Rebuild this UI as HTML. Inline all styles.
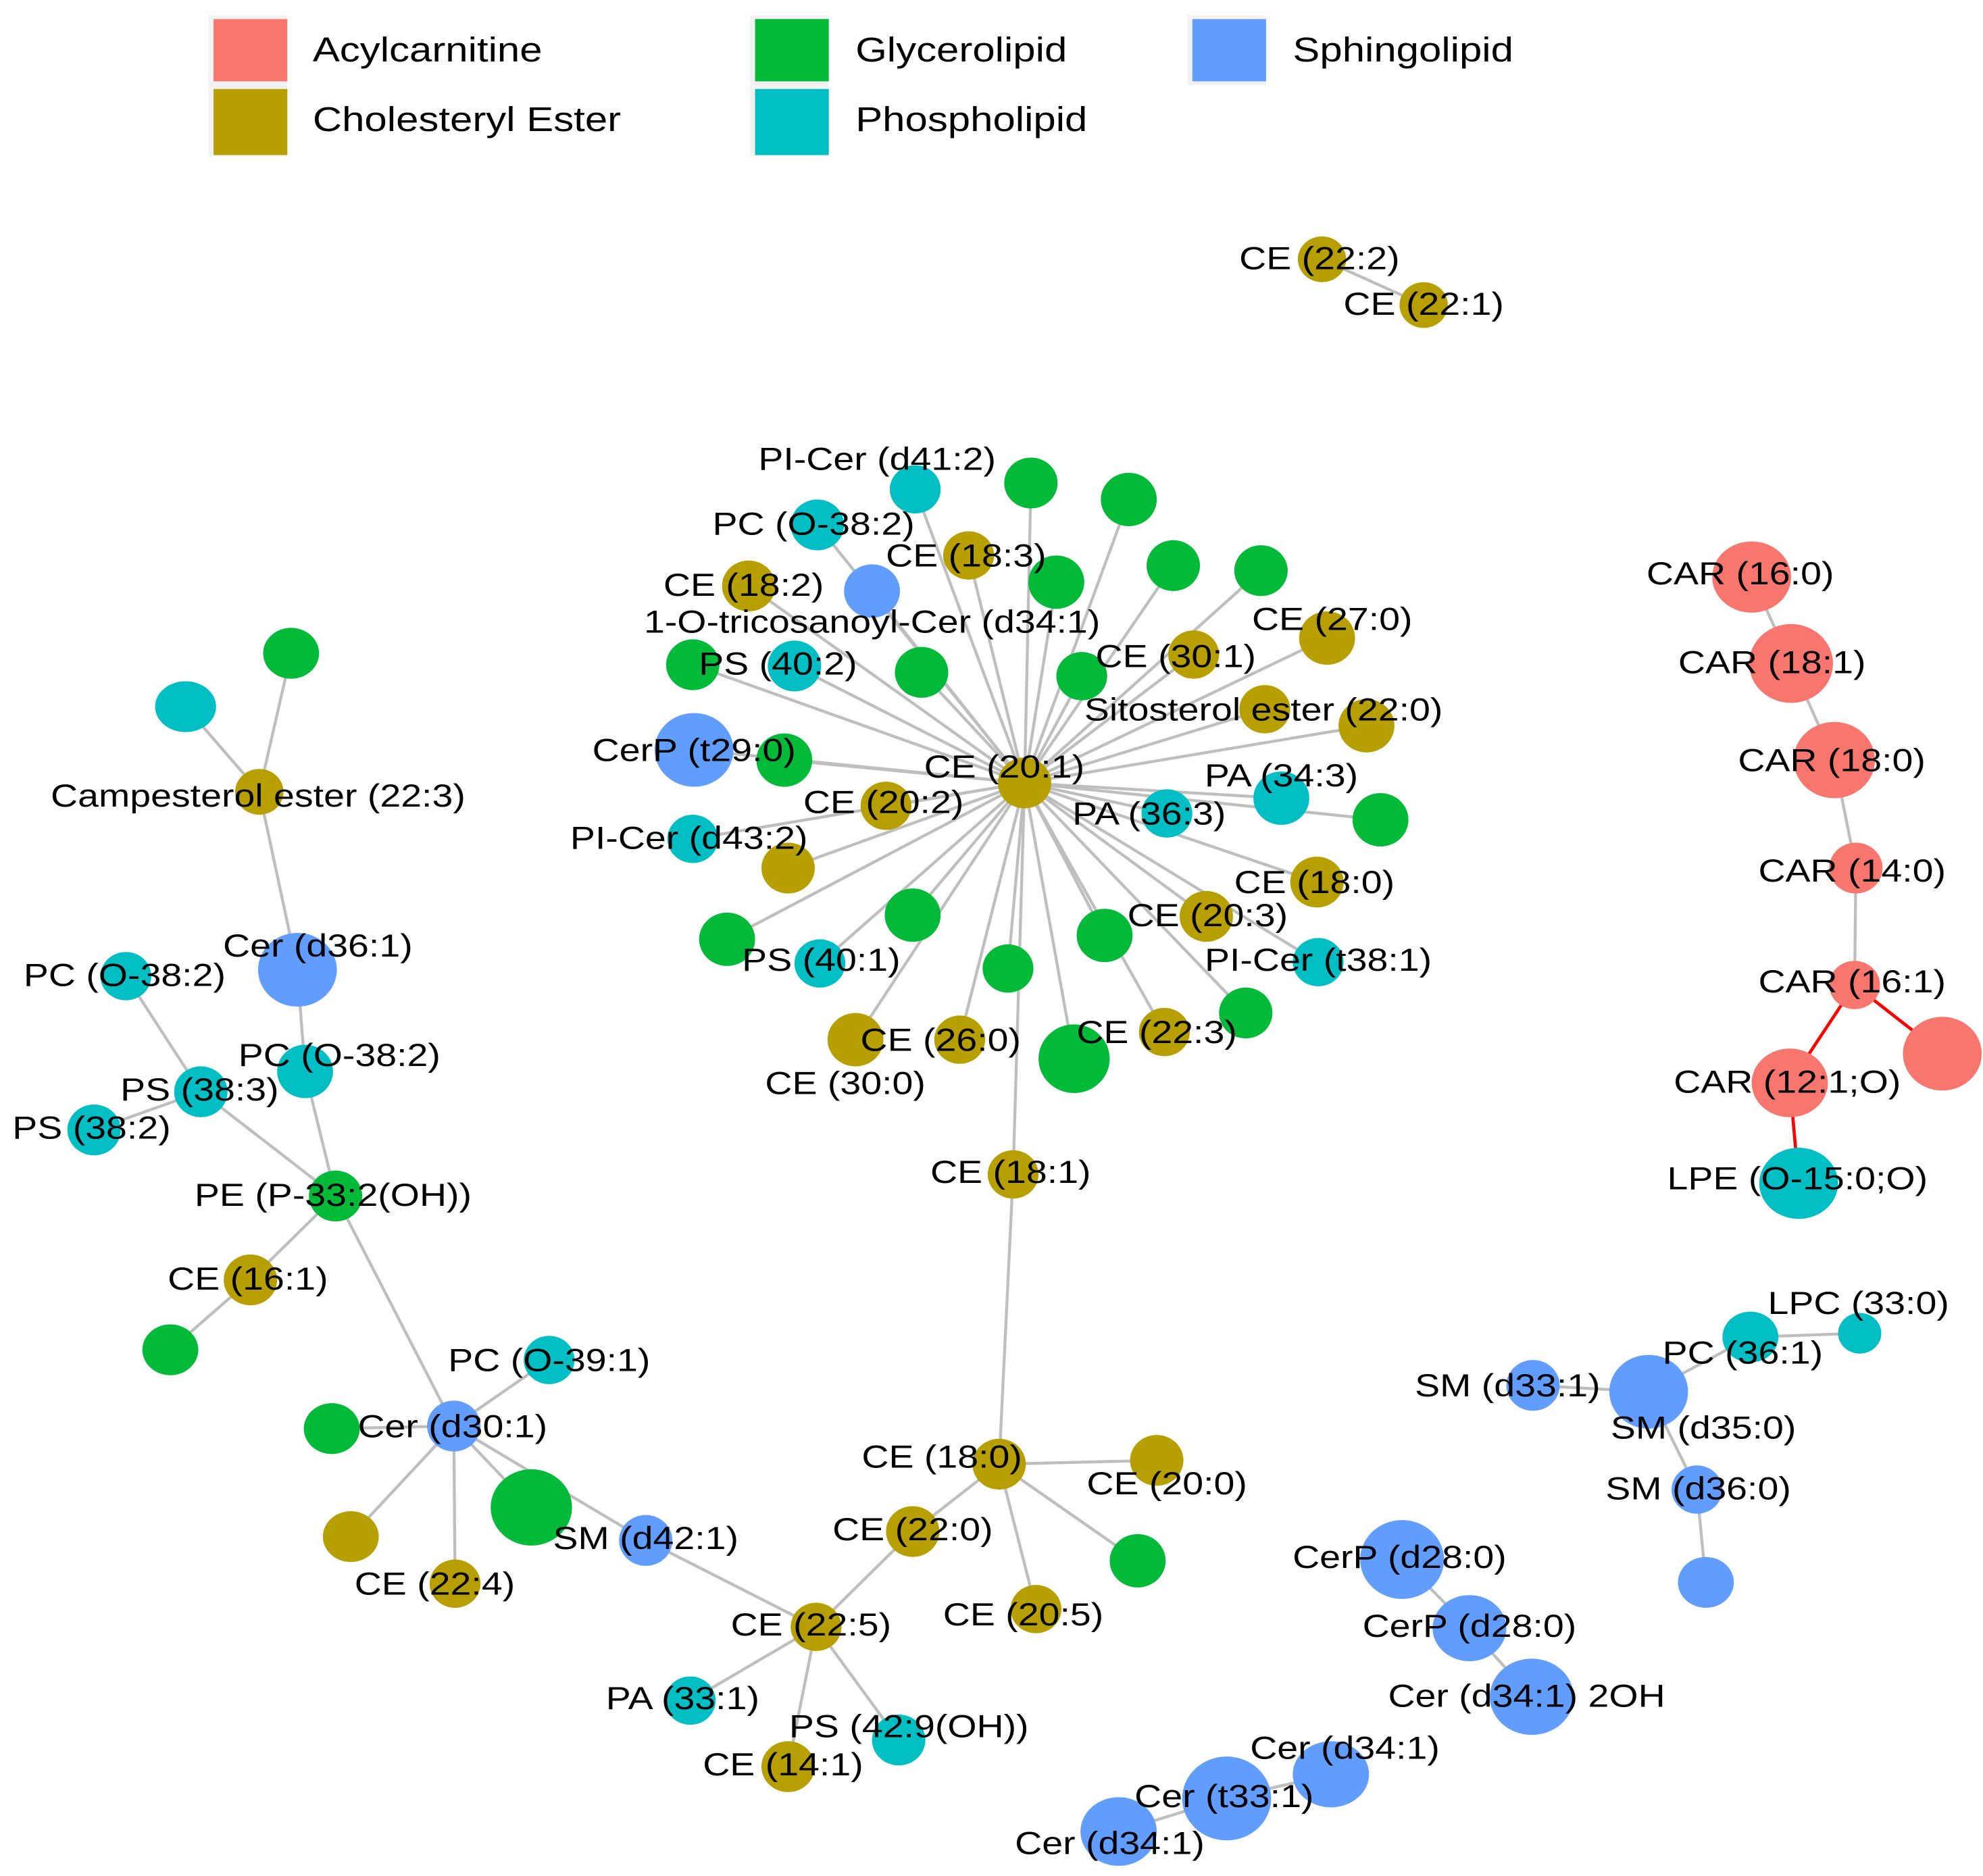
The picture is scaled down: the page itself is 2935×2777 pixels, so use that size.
<!DOCTYPE html>
<html><head><meta charset="utf-8"><style>
html,body{margin:0;padding:0;background:#fff}
svg{display:block}
text{font-family:"Liberation Sans",Arial,sans-serif;fill:#000}
.l{font-size:25px;text-anchor:middle;dominant-baseline:central}
.g{font-size:27px;dominant-baseline:central}
</style></head><body>
<svg width="2935" height="2777" viewBox="0 0 1560 1476" xmlns="http://www.w3.org/2000/svg">
<rect width="1560" height="1476" fill="#fff"/>
<!-- legend -->
<rect x="164" y="12" width="62" height="111" fill="#F2F2F2"/>
<rect x="590" y="12" width="62" height="111" fill="#F2F2F2"/>
<rect x="934" y="12" width="62" height="55" fill="#F2F2F2"/>
<rect x="168" y="15" width="58" height="49" fill="#F8766D"/>
<rect x="168" y="70" width="58" height="52" fill="#B79F00"/>
<rect x="594" y="15" width="58" height="49" fill="#00BA38"/>
<rect x="594" y="70" width="58" height="52" fill="#00BFC4"/>
<rect x="938" y="15" width="58" height="49" fill="#619CFF"/>
<text class="g" transform="translate(246,39) scale(1.18,1)">Acylcarnitine</text>
<text class="g" transform="translate(246,94) scale(1.18,1)">Cholesteryl Ester</text>
<text class="g" transform="translate(673,39) scale(1.18,1)">Glycerolipid</text>
<text class="g" transform="translate(673,94) scale(1.18,1)">Phospholipid</text>
<text class="g" transform="translate(1017,39) scale(1.18,1)">Sphingolipid</text>

<g stroke="#BEBEBE" stroke-width="2.3" fill="none">
<line x1="1040" y1="204" x2="1120" y2="240"/>
<!-- hub edges -->
<g>
<line x1="806" y1="616" x2="720" y2="385"/>
<line x1="806" y1="616" x2="811" y2="380"/>
<line x1="806" y1="616" x2="888" y2="393"/>
<line x1="806" y1="616" x2="643" y2="413"/>
<line x1="806" y1="616" x2="762" y2="437"/>
<line x1="806" y1="616" x2="686" y2="465"/>
<line x1="806" y1="616" x2="589" y2="461"/>
<line x1="806" y1="616" x2="831" y2="458"/>
<line x1="806" y1="616" x2="923" y2="445"/>
<line x1="806" y1="616" x2="992" y2="449"/>
<line x1="806" y1="616" x2="1044" y2="502"/>
<line x1="806" y1="616" x2="939" y2="515"/>
<line x1="806" y1="616" x2="545" y2="523"/>
<line x1="806" y1="616" x2="625" y2="524"/>
<line x1="806" y1="616" x2="725" y2="529"/>
<line x1="806" y1="616" x2="851" y2="532"/>
<line x1="806" y1="616" x2="995" y2="558"/>
<line x1="806" y1="616" x2="1075" y2="571"/>
<line x1="806" y1="616" x2="546" y2="590"/>
<line x1="806" y1="616" x2="617" y2="598"/>
<line x1="806" y1="616" x2="1008" y2="628"/>
<line x1="806" y1="616" x2="1086" y2="645"/>
<line x1="806" y1="616" x2="918" y2="640"/>
<line x1="806" y1="616" x2="697" y2="634"/>
<line x1="806" y1="616" x2="545" y2="660"/>
<line x1="806" y1="616" x2="620" y2="683"/>
<line x1="806" y1="616" x2="1036" y2="694"/>
<line x1="806" y1="616" x2="949" y2="721"/>
<line x1="806" y1="616" x2="718" y2="720"/>
<line x1="806" y1="616" x2="572" y2="739"/>
<line x1="806" y1="616" x2="869" y2="736"/>
<line x1="806" y1="616" x2="645" y2="758"/>
<line x1="806" y1="616" x2="1037" y2="757"/>
<line x1="806" y1="616" x2="793" y2="762"/>
<line x1="806" y1="616" x2="980" y2="797"/>
<line x1="806" y1="616" x2="673" y2="818"/>
<line x1="806" y1="616" x2="755" y2="818"/>
<line x1="806" y1="616" x2="916" y2="812"/>
<line x1="806" y1="616" x2="845" y2="833"/>
<line x1="806" y1="616" x2="797" y2="924"/>
</g>
<line x1="797" y1="924" x2="786" y2="1152"/>
<line x1="786" y1="1152" x2="910" y2="1149"/>
<line x1="786" y1="1152" x2="895" y2="1228"/>
<line x1="786" y1="1152" x2="815" y2="1266"/>
<line x1="786" y1="1152" x2="718" y2="1205"/>
<line x1="718" y1="1205" x2="642" y2="1280"/>
<line x1="642" y1="1280" x2="543" y2="1338"/>
<line x1="642" y1="1280" x2="707" y2="1369"/>
<line x1="642" y1="1280" x2="620" y2="1390"/>
<line x1="642" y1="1280" x2="508" y2="1212"/>
<line x1="508" y1="1212" x2="357" y2="1122"/>
<line x1="357" y1="1122" x2="432" y2="1070"/>
<line x1="357" y1="1122" x2="261" y2="1124"/>
<line x1="357" y1="1122" x2="418" y2="1186"/>
<line x1="357" y1="1122" x2="276" y2="1209"/>
<line x1="357" y1="1122" x2="358" y2="1246"/>
<line x1="357" y1="1122" x2="264" y2="941"/>
<line x1="264" y1="941" x2="197" y2="1007"/>
<line x1="197" y1="1007" x2="134" y2="1062"/>
<line x1="264" y1="941" x2="240" y2="843"/>
<line x1="264" y1="941" x2="158" y2="859"/>
<line x1="158" y1="859" x2="74" y2="889"/>
<line x1="158" y1="859" x2="99" y2="768"/>
<line x1="240" y1="843" x2="234" y2="763"/>
<line x1="234" y1="763" x2="204" y2="623"/>
<line x1="204" y1="623" x2="146" y2="556"/>
<line x1="204" y1="623" x2="229" y2="514"/>
<line x1="1378" y1="454" x2="1409" y2="522"/>
<line x1="1409" y1="522" x2="1443" y2="598"/>
<line x1="1443" y1="598" x2="1460" y2="683"/>
<line x1="1460" y1="683" x2="1459" y2="775"/>
<line x1="1463" y1="1049" x2="1377" y2="1052"/>
<line x1="1377" y1="1052" x2="1297" y2="1095"/>
<line x1="1206" y1="1090" x2="1297" y2="1095"/>
<line x1="1297" y1="1095" x2="1335" y2="1172"/>
<line x1="1335" y1="1172" x2="1342" y2="1245"/>
<line x1="1103" y1="1227" x2="1156" y2="1281"/>
<line x1="1156" y1="1281" x2="1205" y2="1335"/>
<line x1="1047" y1="1396" x2="965" y2="1415"/>
<line x1="965" y1="1415" x2="880" y2="1441"/>
</g>
<g stroke="#FF0000" stroke-width="2.5">
<line x1="1459" y1="775" x2="1528" y2="829"/>
<line x1="1459" y1="775" x2="1408" y2="852"/>
<line x1="1408" y1="852" x2="1415" y2="931"/>
</g>

<!-- nodes -->
<g>
<ellipse cx="1040" cy="204" rx="19" ry="18" fill="#B79F00"/>
<ellipse cx="1120" cy="240" rx="19" ry="18" fill="#B79F00"/>
<ellipse cx="720" cy="385" rx="20" ry="19" fill="#00BFC4"/>
<ellipse cx="811" cy="380" rx="21" ry="20" fill="#00BA38"/>
<ellipse cx="888" cy="393" rx="22" ry="21" fill="#00BA38"/>
<ellipse cx="643" cy="413" rx="21" ry="20" fill="#00BFC4"/>
<ellipse cx="762" cy="437" rx="20" ry="19" fill="#B79F00"/>
<ellipse cx="686" cy="465" rx="22" ry="21" fill="#619CFF"/>
<ellipse cx="589" cy="461" rx="21" ry="20" fill="#B79F00"/>
<ellipse cx="831" cy="458" rx="22" ry="21" fill="#00BA38"/>
<ellipse cx="923" cy="445" rx="21" ry="20" fill="#00BA38"/>
<ellipse cx="992" cy="449" rx="21" ry="20" fill="#00BA38"/>
<ellipse cx="1044" cy="502" rx="22" ry="21" fill="#B79F00"/>
<ellipse cx="939" cy="515" rx="20" ry="19" fill="#B79F00"/>
<ellipse cx="545" cy="523" rx="21" ry="20" fill="#00BA38"/>
<ellipse cx="625" cy="524" rx="21" ry="20" fill="#00BFC4"/>
<ellipse cx="725" cy="529" rx="21" ry="20" fill="#00BA38"/>
<ellipse cx="851" cy="532" rx="20" ry="19" fill="#00BA38"/>
<ellipse cx="995" cy="558" rx="20" ry="19" fill="#B79F00"/>
<ellipse cx="1075" cy="571" rx="22" ry="21" fill="#B79F00"/>
<ellipse cx="546" cy="590" rx="31" ry="29" fill="#619CFF"/>
<ellipse cx="617" cy="598" rx="22" ry="21" fill="#00BA38"/>
<ellipse cx="806" cy="616" rx="21" ry="20" fill="#B79F00"/>
<ellipse cx="1008" cy="628" rx="22" ry="21" fill="#00BFC4"/>
<ellipse cx="1086" cy="645" rx="22" ry="21" fill="#00BA38"/>
<ellipse cx="918" cy="640" rx="20" ry="19" fill="#00BFC4"/>
<ellipse cx="697" cy="634" rx="20" ry="19" fill="#B79F00"/>
<ellipse cx="545" cy="660" rx="20" ry="19" fill="#00BFC4"/>
<ellipse cx="620" cy="683" rx="21" ry="20" fill="#B79F00"/>
<ellipse cx="1036" cy="694" rx="21" ry="20" fill="#B79F00"/>
<ellipse cx="949" cy="721" rx="21" ry="20" fill="#B79F00"/>
<ellipse cx="718" cy="720" rx="22" ry="21" fill="#00BA38"/>
<ellipse cx="572" cy="739" rx="22" ry="21" fill="#00BA38"/>
<ellipse cx="869" cy="736" rx="22" ry="21" fill="#00BA38"/>
<ellipse cx="645" cy="758" rx="20" ry="19" fill="#00BFC4"/>
<ellipse cx="1037" cy="757" rx="20" ry="19" fill="#00BFC4"/>
<ellipse cx="793" cy="762" rx="20" ry="19" fill="#00BA38"/>
<ellipse cx="980" cy="797" rx="21" ry="20" fill="#00BA38"/>
<ellipse cx="673" cy="818" rx="22" ry="21" fill="#B79F00"/>
<ellipse cx="755" cy="818" rx="20" ry="19" fill="#B79F00"/>
<ellipse cx="916" cy="812" rx="20" ry="19" fill="#B79F00"/>
<ellipse cx="845" cy="833" rx="28" ry="27" fill="#00BA38"/>
<ellipse cx="797" cy="924" rx="20" ry="19" fill="#B79F00"/>
<ellipse cx="786" cy="1152" rx="21" ry="20" fill="#B79F00"/>
<ellipse cx="910" cy="1149" rx="21" ry="20" fill="#B79F00"/>
<ellipse cx="895" cy="1228" rx="22" ry="21" fill="#00BA38"/>
<ellipse cx="815" cy="1266" rx="20" ry="19" fill="#B79F00"/>
<ellipse cx="718" cy="1205" rx="21" ry="20" fill="#B79F00"/>
<ellipse cx="642" cy="1280" rx="20" ry="19" fill="#B79F00"/>
<ellipse cx="543" cy="1338" rx="20" ry="19" fill="#00BFC4"/>
<ellipse cx="707" cy="1369" rx="21" ry="20" fill="#00BFC4"/>
<ellipse cx="620" cy="1390" rx="21" ry="20" fill="#B79F00"/>
<ellipse cx="508" cy="1212" rx="21" ry="20" fill="#619CFF"/>
<ellipse cx="357" cy="1122" rx="21" ry="20" fill="#619CFF"/>
<ellipse cx="432" cy="1070" rx="20" ry="19" fill="#00BFC4"/>
<ellipse cx="261" cy="1124" rx="22" ry="20" fill="#00BA38"/>
<ellipse cx="418" cy="1186" rx="32" ry="30" fill="#00BA38"/>
<ellipse cx="276" cy="1209" rx="22" ry="20" fill="#B79F00"/>
<ellipse cx="358" cy="1246" rx="20" ry="19" fill="#B79F00"/>
<ellipse cx="264" cy="941" rx="21" ry="20" fill="#00BA38"/>
<ellipse cx="197" cy="1007" rx="21" ry="20" fill="#B79F00"/>
<ellipse cx="134" cy="1062" rx="22" ry="20" fill="#00BA38"/>
<ellipse cx="240" cy="843" rx="22" ry="21" fill="#00BFC4"/>
<ellipse cx="158" cy="859" rx="21" ry="20" fill="#00BFC4"/>
<ellipse cx="74" cy="889" rx="21" ry="20" fill="#00BFC4"/>
<ellipse cx="99" cy="768" rx="20" ry="19" fill="#00BFC4"/>
<ellipse cx="234" cy="763" rx="31" ry="29" fill="#619CFF"/>
<ellipse cx="204" cy="623" rx="19" ry="18" fill="#B79F00"/>
<ellipse cx="146" cy="556" rx="24" ry="20" fill="#00BFC4"/>
<ellipse cx="229" cy="514" rx="22" ry="20" fill="#00BA38"/>
<ellipse cx="1378" cy="454" rx="31" ry="28" fill="#F8766D"/>
<ellipse cx="1409" cy="522" rx="33" ry="31" fill="#F8766D"/>
<ellipse cx="1443" cy="598" rx="32" ry="30" fill="#F8766D"/>
<ellipse cx="1460" cy="683" rx="21" ry="20" fill="#F8766D"/>
<ellipse cx="1459" cy="775" rx="20" ry="19" fill="#F8766D"/>
<ellipse cx="1528" cy="829" rx="31" ry="29" fill="#F8766D"/>
<ellipse cx="1408" cy="852" rx="30" ry="27" fill="#F8766D"/>
<ellipse cx="1415" cy="931" rx="31" ry="28" fill="#00BFC4"/>
<ellipse cx="1463" cy="1049" rx="17" ry="16" fill="#00BFC4"/>
<ellipse cx="1377" cy="1052" rx="22" ry="20" fill="#00BFC4"/>
<ellipse cx="1297" cy="1095" rx="31" ry="29" fill="#619CFF"/>
<ellipse cx="1206" cy="1090" rx="21" ry="20" fill="#619CFF"/>
<ellipse cx="1335" cy="1172" rx="20" ry="19" fill="#619CFF"/>
<ellipse cx="1342" cy="1245" rx="22" ry="20" fill="#619CFF"/>
<ellipse cx="1103" cy="1227" rx="33" ry="31" fill="#619CFF"/>
<ellipse cx="1156" cy="1281" rx="29" ry="26" fill="#619CFF"/>
<ellipse cx="1205" cy="1335" rx="33" ry="30" fill="#619CFF"/>
<ellipse cx="1047" cy="1396" rx="30" ry="26" fill="#619CFF"/>
<ellipse cx="965" cy="1415" rx="35" ry="33" fill="#619CFF"/>
<ellipse cx="880" cy="1441" rx="30" ry="27" fill="#619CFF"/>
</g>

<!-- labels -->
<g>
<text class="l" transform="translate(1038,203) scale(1.18,1)">CE (22:2)</text>
<text class="l" transform="translate(1120,239) scale(1.18,1)">CE (22:1)</text>
<text class="l" transform="translate(690,361) scale(1.18,1)">PI-Cer (d41:2)</text>
<text class="l" transform="translate(640,412) scale(1.18,1)">PC (O-38:2)</text>
<text class="l" transform="translate(760,437) scale(1.18,1)">CE (18:3)</text>
<text class="l" transform="translate(585,460) scale(1.18,1)">CE (18:2)</text>
<text class="l" transform="translate(686,489) scale(1.18,1)">1-O-tricosanoyl-Cer (d34:1)</text>
<text class="l" transform="translate(1048,487) scale(1.18,1)">CE (27:0)</text>
<text class="l" transform="translate(925,516) scale(1.18,1)">CE (30:1)</text>
<text class="l" transform="translate(612,522) scale(1.18,1)">PS (40:2)</text>
<text class="l" transform="translate(994,558) scale(1.18,1)">Sitosterol ester (22:0)</text>
<text class="l" transform="translate(546,590) scale(1.18,1)">CerP (t29:0)</text>
<text class="l" transform="translate(790,603) scale(1.18,1)">CE (20:1)</text>
<text class="l" transform="translate(1008,610) scale(1.18,1)">PA (34:3)</text>
<text class="l" transform="translate(904,640) scale(1.18,1)">PA (36:3)</text>
<text class="l" transform="translate(695,631) scale(1.18,1)">CE (20:2)</text>
<text class="l" transform="translate(542,659) scale(1.18,1)">PI-Cer (d43:2)</text>
<text class="l" transform="translate(1034,694) scale(1.18,1)">CE (18:0)</text>
<text class="l" transform="translate(950,720) scale(1.18,1)">CE (20:3)</text>
<text class="l" transform="translate(646,755) scale(1.18,1)">PS (40:1)</text>
<text class="l" transform="translate(1037,755) scale(1.18,1)">PI-Cer (t38:1)</text>
<text class="l" transform="translate(665,852) scale(1.18,1)">CE (30:0)</text>
<text class="l" transform="translate(740,818) scale(1.18,1)">CE (26:0)</text>
<text class="l" transform="translate(910,812) scale(1.18,1)">CE (22:3)</text>
<text class="l" transform="translate(795,922) scale(1.18,1)">CE (18:1)</text>
<text class="l" transform="translate(741,1146) scale(1.18,1)">CE (18:0)</text>
<text class="l" transform="translate(918,1167) scale(1.18,1)">CE (20:0)</text>
<text class="l" transform="translate(805,1270) scale(1.18,1)">CE (20:5)</text>
<text class="l" transform="translate(718,1203) scale(1.18,1)">CE (22:0)</text>
<text class="l" transform="translate(638,1278) scale(1.18,1)">CE (22:5)</text>
<text class="l" transform="translate(537,1336) scale(1.18,1)">PA (33:1)</text>
<text class="l" transform="translate(715,1358) scale(1.18,1)">PS (42:9(OH))</text>
<text class="l" transform="translate(616,1388) scale(1.18,1)">CE (14:1)</text>
<text class="l" transform="translate(508,1210) scale(1.18,1)">SM (d42:1)</text>
<text class="l" transform="translate(356,1122) scale(1.18,1)">Cer (d30:1)</text>
<text class="l" transform="translate(432,1070) scale(1.18,1)">PC (O-39:1)</text>
<text class="l" transform="translate(342,1246) scale(1.18,1)">CE (22:4)</text>
<text class="l" transform="translate(262,940) scale(1.18,1)">PE (P-33:2(OH))</text>
<text class="l" transform="translate(195,1006) scale(1.18,1)">CE (16:1)</text>
<text class="l" transform="translate(267,830) scale(1.18,1)">PC (O-38:2)</text>
<text class="l" transform="translate(157,857) scale(1.18,1)">PS (38:3)</text>
<text class="l" transform="translate(72,887) scale(1.18,1)">PS (38:2)</text>
<text class="l" transform="translate(98,767) scale(1.18,1)">PC (O-38:2)</text>
<text class="l" transform="translate(250,744) scale(1.18,1)">Cer (d36:1)</text>
<text class="l" transform="translate(203,626) scale(1.18,1)">Campesterol ester (22:3)</text>
<text class="l" transform="translate(1369,451) scale(1.18,1)">CAR (16:0)</text>
<text class="l" transform="translate(1394,521) scale(1.18,1)">CAR (18:1)</text>
<text class="l" transform="translate(1441,598) scale(1.18,1)">CAR (18:0)</text>
<text class="l" transform="translate(1457,685) scale(1.18,1)">CAR (14:0)</text>
<text class="l" transform="translate(1457,772) scale(1.18,1)">CAR (16:1)</text>
<text class="l" transform="translate(1406,851) scale(1.18,1)">CAR (12:1;O)</text>
<text class="l" transform="translate(1414,927) scale(1.18,1)">LPE (O-15:0;O)</text>
<text class="l" transform="translate(1462,1025) scale(1.18,1)">LPC (33:0)</text>
<text class="l" transform="translate(1371,1064) scale(1.18,1)">PC (36:1)</text>
<text class="l" transform="translate(1340,1123) scale(1.18,1)">SM (d35:0)</text>
<text class="l" transform="translate(1186,1090) scale(1.18,1)">SM (d33:1)</text>
<text class="l" transform="translate(1336,1171) scale(1.18,1)">SM (d36:0)</text>
<text class="l" transform="translate(1101,1225) scale(1.18,1)">CerP (d28:0)</text>
<text class="l" transform="translate(1156,1279) scale(1.18,1)">CerP (d28:0)</text>
<text class="l" transform="translate(1201,1334) scale(1.18,1)">Cer (d34:1) 2OH</text>
<text class="l" transform="translate(1058,1375) scale(1.18,1)">Cer (d34:1)</text>
<text class="l" transform="translate(963,1413) scale(1.18,1)">Cer (t33:1)</text>
<text class="l" transform="translate(873,1450) scale(1.18,1)">Cer (d34:1)</text>
</g>
</svg>
</body></html>
